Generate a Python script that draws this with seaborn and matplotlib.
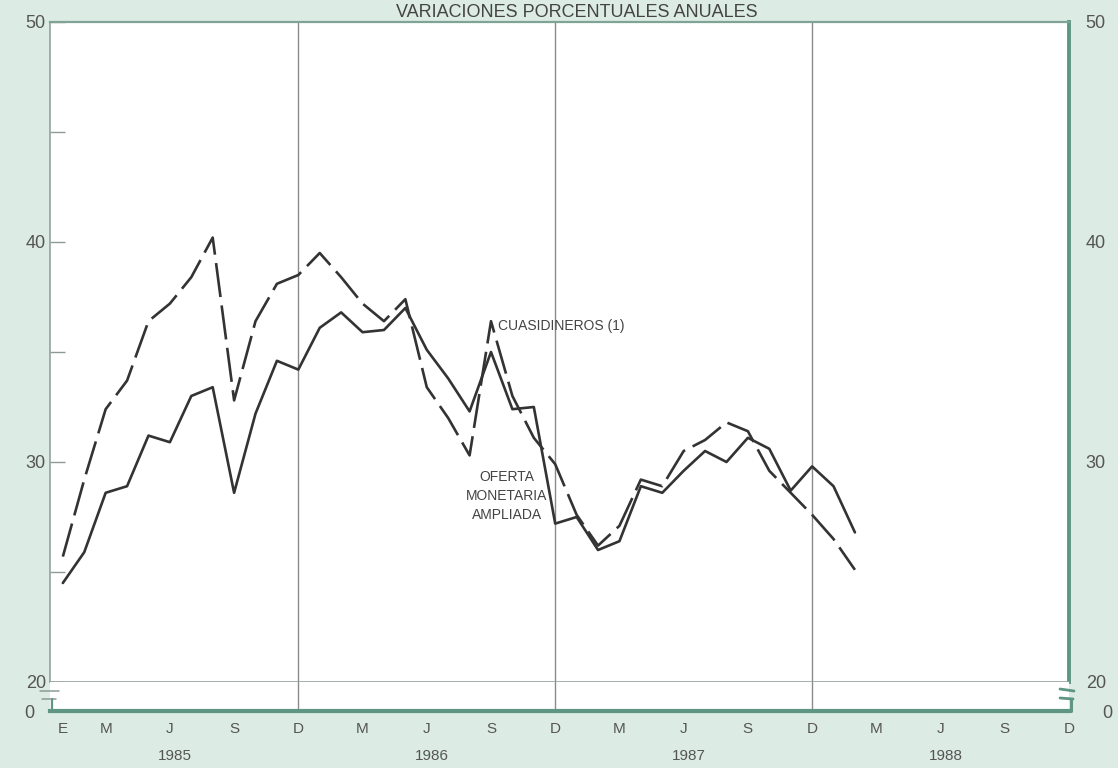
import matplotlib as mpl
mpl.use('Agg')
import matplotlib.pyplot as plt
from matplotlib.lines import Line2D
import seaborn as sns
import pandas as pd

# months counted from E 1985 (0) to F 1988 (37)
meses = list(range(38))

cuasidineros = [25.7, 29.2, 32.4, 33.7, 36.4, 37.2, 38.4, 40.2, 32.8, 36.4,
                38.1, 38.5, 39.5, 38.4, 37.2, 36.4, 37.4, 33.4, 32.0, 30.3,
                36.4, 33.0, 31.1, 29.9, 27.6, 26.2, 27.1, 29.2, 28.9, 30.5,
                31.0, 31.8, 31.4, 29.6, 28.6, 27.6, 26.5, 25.1]

oferta = [24.5, 25.9, 28.6, 28.9, 31.2, 30.9, 33.0, 33.4, 28.6, 32.2,
          34.6, 34.2, 36.1, 36.8, 35.9, 36.0, 37.0, 35.1, 33.8, 32.3,
          35.0, 32.4, 32.5, 27.2, 27.5, 26.0, 26.4, 28.9, 28.6, 29.6,
          30.5, 30.0, 31.1, 30.6, 28.7, 29.8, 28.9, 26.8]

anios = ['1985', '1986', '1987', '1988']
meses_etq = ['M', 'J', 'S', 'D']

nombre_c = 'CUASIDINEROS (1)'
nombre_o = 'OFERTA MONETARIA AMPLIADA'

fondo = '#dcebe4'
verde = '#5f9683'
gris = '#8c9b95'
tinta = '#333333'
texto = '#555555'

sns.set_theme(style='white')
plt.rcParams['font.family'] = ['Liberation Sans', 'DejaVu Sans']

W, H = 1118, 768
fig = plt.figure(figsize=(W / 100, H / 100), dpi=100, facecolor=fondo)

def fx(x):
  return x / W

def fy(y):
  return 1 - y / H

ax = fig.add_axes([fx(50), fy(682), fx(1069) - fx(50), fy(22) - fy(682)])
axb = fig.add_axes([fx(50), fy(711), fx(1069) - fx(50), fy(682) - fy(711)])

df = pd.DataFrame({
  'mes': meses + meses,
  'valor': cuasidineros + oferta,
  'serie': [nombre_c] * len(meses) + [nombre_o] * len(meses),
})

sns.lineplot(data=df, x='mes', y='valor', hue='serie', style='serie',
             palette={nombre_c: tinta, nombre_o: tinta},
             dashes={nombre_c: (13, 3.2), nombre_o: ''},
             linewidth=1.9, errorbar=None, legend=False, ax=ax)

xmin, xmax = -0.6, 47
for a in (ax, axb):
  a.set_xlim(xmin, xmax)
  a.set_facecolor('white')
  a.set_xlabel('')
  a.set_ylabel('')
  for d in (11, 23, 35):
    a.axvline(d, color='#8a8a8a', lw=1.0, zorder=0)

# main panel 20..50
ax.set_ylim(20, 50)
ax.set_yticks([20, 25, 30, 35, 40, 45, 50])
ax.set_yticklabels(['20', '', '30', '', '40', '', '50'])
ax.set_xticks([])
ax.tick_params(axis='y', direction='in', length=11, width=1.0, color=gris,
               labelsize=13, labelcolor=texto, pad=3, left=True, right=True)
ax.spines['top'].set_color('#7fa497')
ax.spines['top'].set_linewidth(1.6)
ax.spines['left'].set_color(gris)
ax.spines['left'].set_linewidth(1.1)
ax.spines['bottom'].set_color(gris)
ax.spines['bottom'].set_linewidth(1.1)
ax.spines['right'].set_color(verde)
ax.spines['right'].set_linewidth(2.8)

ax2 = ax.twinx()
ax2.set_ylim(20, 50)
ax2.set_yticks([20, 30, 40, 50])
ax2.set_yticklabels(['20', '30', '40', '50'])
ax2.tick_params(axis='y', length=0, labelsize=13, labelcolor=texto, pad=12)
for s in ax2.spines.values():
  s.set_visible(False)

# strip with the 0 base line and the month ticks
axb.set_ylim(0, 1)
axb.set_yticks([0])
axb.set_yticklabels(['0'])
axb.tick_params(axis='y', length=0, labelsize=13, labelcolor=texto, pad=11)
mayores = [m for m in range(48) if m % 3 == 2]
axb.set_xticks(mayores)
axb.set_xticklabels([meses_etq[i % 4] for i in range(len(mayores))])
axb.set_xticks(list(range(48)), minor=True)
axb.set_xticklabels(['E'] + [''] * 47, minor=True)
axb.tick_params(axis='x', which='major', direction='in', length=13, width=1.0,
                color=verde, labelsize=11, labelcolor=texto, pad=8)
axb.tick_params(axis='x', which='minor', direction='in', length=6, width=1.0,
                color=verde, labelsize=11, labelcolor=texto, pad=8)
for s in ('top', 'left', 'right'):
  axb.spines[s].set_visible(False)
axb.spines['bottom'].set_color(verde)
axb.spines['bottom'].set_linewidth(3.0)

axb2 = axb.twinx()
axb2.set_ylim(0, 1)
axb2.set_yticks([0])
axb2.set_yticklabels(['0'])
axb2.tick_params(axis='y', length=0, labelsize=13, labelcolor=texto, pad=24)
for s in axb2.spines.values():
  s.set_visible(False)

for i, anio in enumerate(anios):
  axb.text(5.25 + 12 * i, -1.55, anio, transform=axb.get_xaxis_transform(),
           ha='center', va='center', fontsize=11, color=texto)

# series labels
ax.text(20.35, 36.2, nombre_c, fontsize=10, color='#444444', ha='left', va='center')
ax.text(20.75, 28.45, 'OFERTA\nMONETARIA\nAMPLIADA', fontsize=10, color='#444444',
        ha='center', va='center', linespacing=1.45)

# axis break marks
def raya(x0, y0, x1, y1, c=gris, lw=1.1):
  fig.add_artist(Line2D([fx(x0), fx(x1)], [fy(y0), fy(y1)], color=c, lw=lw))

raya(40, 691, 59, 691)
raya(42, 699, 56, 699)
raya(52, 699, 52, 711, c=verde, lw=1.6)
raya(1060, 689, 1074, 691, c=verde, lw=2.0)
raya(1060, 698, 1073, 699, c=verde, lw=2.0)
raya(1071, 699, 1071, 711, c=verde, lw=2.2)

fig.text(fx(577), fy(17), 'VARIACIONES PORCENTUALES ANUALES', ha='center',
         va='baseline', fontsize=13, color='#444444')

plt.savefig('out.png', dpi=100, facecolor=fondo)
plt.close('all')
